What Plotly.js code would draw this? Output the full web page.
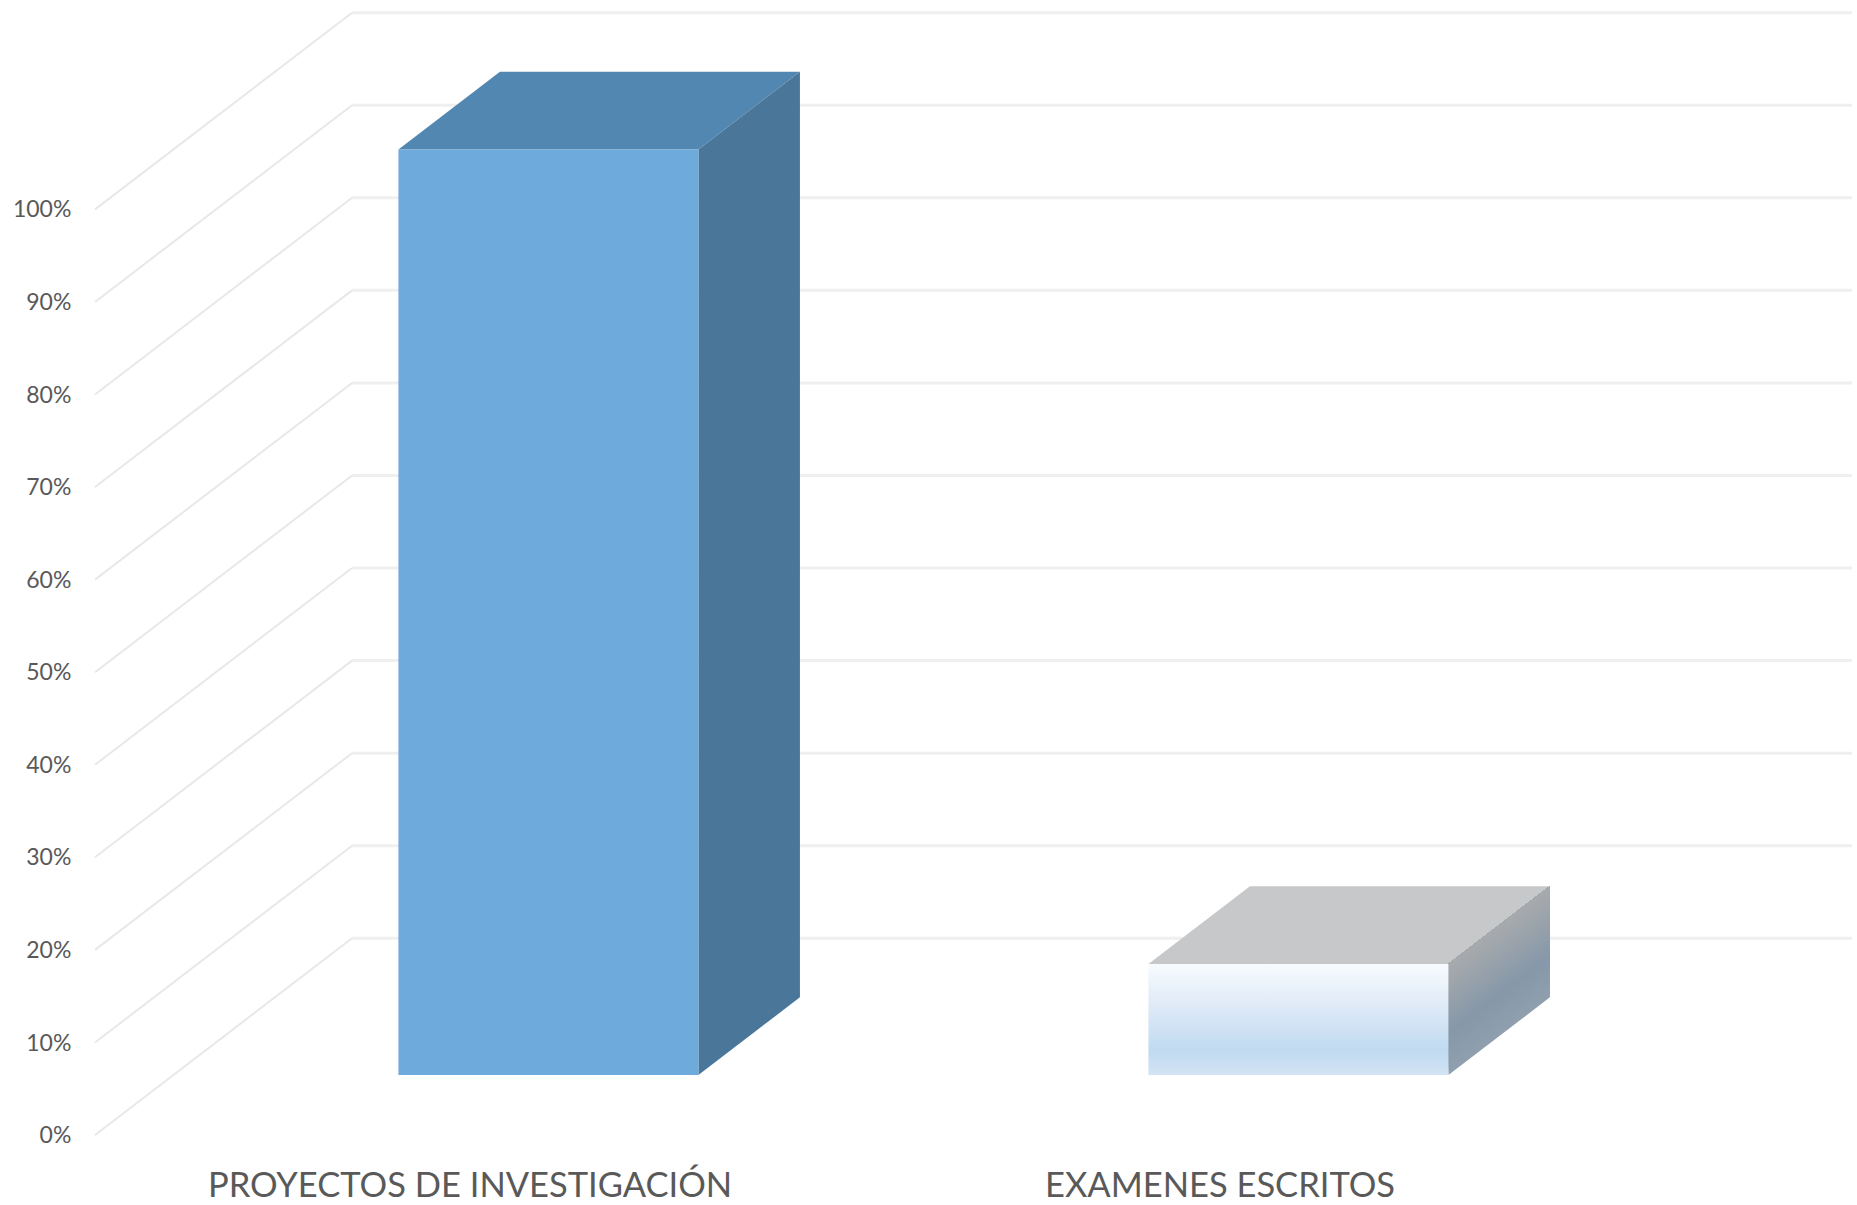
<!DOCTYPE html>
<html>
<head>
<meta charset="utf-8">
<script src="https://cdn.plot.ly/plotly-3.0.1.min.js"></script>
<style>html,body{margin:0;padding:0;background:#fff;overflow:hidden}</style>
</head>
<body>
<div id="chart" style="width:1857px;height:1205px"></div>
<script>
// Data
const categories = ['PROYECTOS DE INVESTIGACIÓN', 'EXAMENES ESCRITOS'];
const values = [1.0, 0.12];
const tickValues = [0, 0.1, 0.2, 0.3, 0.4, 0.5, 0.6, 0.7, 0.8, 0.9, 1.0];
const tickLabels = ['0%', '10%', '20%', '30%', '40%', '50%', '60%', '70%', '80%', '90%', '100%'];

// Oblique projection of a 3-D column chart onto the 2-D axes
const depthX = 0.3427;       // category units shifted at full depth
const depthY = 0.2125;       // value units shifted at full depth
const barHalf = 0.2;         // half bar width, category units
const barNear = 0.305;       // bar front depth
const barFar = 0.70;         // bar back depth
const px = (c, d) => c + d * depthX;
const py = (v, d) => v + d * depthY;

// Side shading of the short column: [fraction of height, r, g, b]
const sideStops = [[0, 143, 159, 174], [0.35, 134, 152, 169], [1, 169, 171, 173]];
const sideSteps = 30;

function poly(points, style) {
  return Object.assign({
    type: 'scatter', mode: 'lines',
    x: points.map(p => px(p[0], p[2])),
    y: points.map(p => py(p[1], p[2])),
    fill: 'toself', line: {width: 0}, hoverinfo: 'skip', showlegend: false
  }, style);
}

function sideColor(w) {
  let k = 0;
  while (k < sideStops.length - 2 && w > sideStops[k + 1][0]) k++;
  const a = sideStops[k], b = sideStops[k + 1], t = (w - a[0]) / (b[0] - a[0]);
  const c = [1, 2, 3].map(j => Math.round(a[j] + (b[j] - a[j]) * t));
  return 'rgb(' + c.join(',') + ')';
}

const traces = [];

// Walls: diagonal floor-to-back lines and horizontal back lines
const diagX = [], diagY = [], backX = [], backY = [];
tickValues.forEach(v => {
  diagX.push(px(-0.5, 0), px(-0.5, 1), null);
  diagY.push(py(v, 0), py(v, 1), null);
  backX.push(px(-0.5, 1), px(1.5, 1), null);
  backY.push(py(v, 1), py(v, 1), null);
});
traces.push({type: 'scatter', mode: 'lines', x: backX, y: backY,
  line: {color: '#efefef', width: 3}, hoverinfo: 'skip', showlegend: false});
traces.push({type: 'scatter', mode: 'lines', x: diagX, y: diagY,
  line: {color: '#e8e8e8', width: 2}, hoverinfo: 'skip', showlegend: false});

// Column faces
function faces(i) {
  const c0 = i - barHalf, c1 = i + barHalf, v = values[i];
  return {
    top: [[c0, v, barNear], [c1, v, barNear], [c1, v, barFar], [c0, v, barFar]],
    side: [[c1, 0, barNear], [c1, v, barNear], [c1, v, barFar], [c1, 0, barFar]],
    front: [[c0, 0, barNear], [c1, 0, barNear], [c1, v, barNear], [c0, v, barNear]]
  };
}
const f0 = faces(0), f1 = faces(1);
traces.push(poly(f0.top, {fillcolor: '#5287b2'}));
traces.push(poly(f0.side, {fillcolor: '#4a7799'}));
traces.push(poly(f0.front, {fillcolor: '#6eaadc'}));
traces.push(poly(f1.top, {fillcolor: '#c6c8ca'}));
// Painted bottom to top so the shading bands leave no seams
for (let s = 0; s < sideSteps; s++) {
  const w = s / sideSteps, c1 = 1 + barHalf, v = values[1];
  traces.push(poly([[c1, v * w, barNear], [c1, v, barNear], [c1, v, barFar], [c1, v * w, barFar]],
    {fillcolor: sideColor(w)}));
}
traces.push(poly(f1.front, {
  fillgradient: {type: 'vertical', colorscale: [[0, '#d2e4f5'], [0.22, '#c0daf0'], [0.6, '#dde9f6'], [1, '#f7fbff']]}
}));

const layout = {
  width: 1857, height: 1205,
  margin: {l: 78, r: 0, t: 0, b: 60, pad: 0},
  paper_bgcolor: '#ffffff', plot_bgcolor: '#ffffff',
  showlegend: false,
  xaxis: {
    range: [-0.5227, 1.8493], showgrid: false, zeroline: false, showline: false,
    tickmode: 'array', tickvals: categories.map((_, i) => i), ticktext: categories,
    ticks: 'outside', ticklen: 10, tickcolor: 'rgba(0,0,0,0)',
    tickfont: {family: 'Lato, sans-serif', size: 34.5, color: '#595959'}, tickangle: 0
  },
  yaxis: {
    range: [-0.0108, 1.2262], showgrid: false, zeroline: false, showline: false,
    tickmode: 'array', tickvals: tickValues, ticktext: tickLabels,
    ticks: 'outside', ticklen: 1, tickcolor: 'rgba(0,0,0,0)',
    tickfont: {family: 'Lato, sans-serif', size: 23, color: '#595959'}
  }
};
Plotly.newPlot('chart', traces, layout, {displayModeBar: false, staticPlot: true});
</script>
</body>
</html>
